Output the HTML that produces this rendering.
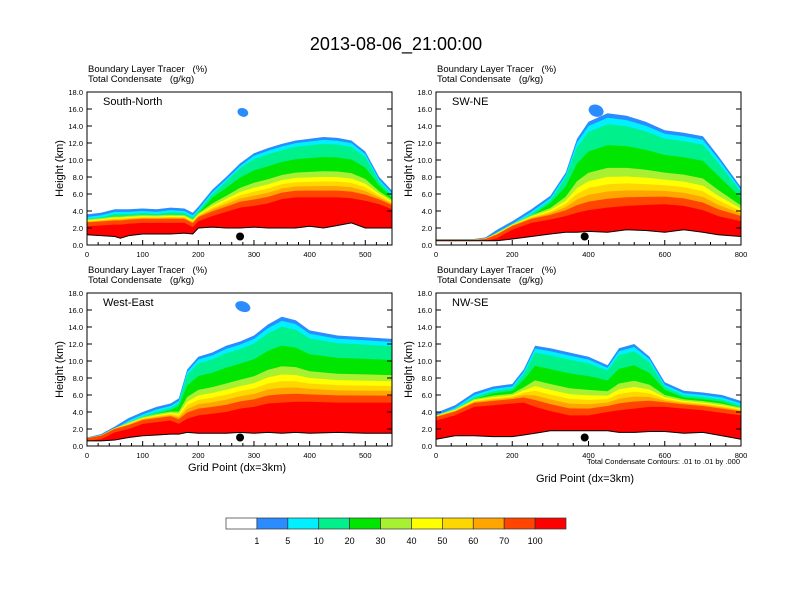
<!DOCTYPE html>
<html><head><meta charset="utf-8"><style>
body{margin:0;background:#fff}
svg{display:block;font-family:"Liberation Sans",sans-serif}
text{white-space:pre}
</style></head><body>
<svg id="c" width="792" height="612" viewBox="0 0 792 612">
<text x="396" y="50" font-size="18" text-anchor="middle">2013-08-06_21:00:00</text>
</svg>
<script>
const NS="http://www.w3.org/2000/svg";
const svg=document.getElementById('c');
const bandColors=["#2a8cff","#00f0ff","#00f08c","#00e600","#a8f032","#ffff00","#ffd700","#ffa500","#ff4500","#ff0000"];
const colorbarColors=["#ffffff","#2a8cff","#00f0ff","#00f08c","#00e600","#a8f032","#ffff00","#ffd700","#ffa500","#ff4500","#ff0000"];
const colorbarLabels=["1","5","10","20","30","40","50","60","70","100"];
const panelNames=["South-North","SW-NE","West-East","NW-SE"];
const panelXmax=[548,800,548,800];
const xTickStep=[100,200,100,200];
const p1Grid=[0,25,50,60,75,100,125,150,175,190,200,225,250,275,300,325,350,375,400,425,450,475,500,525,548];
const p1Terrain=[1.2,1.1,1.0,0.8,1.1,1.3,1.3,1.3,1.4,1.3,2.0,2.1,2.0,2.0,2.1,2.0,2.0,2.0,2.2,2.0,2.3,2.6,2.0,2.0,2.0];
const p1RedTop=[2.6,2.7,2.8,2.8,2.9,3.0,3.0,3.0,3.0,2.5,3.2,3.8,4.3,4.8,5.0,5.3,5.8,6.0,6.0,6.0,6.0,5.9,5.6,5.2,4.6];
const p1CloudTop=[3.6,3.8,4.2,4.2,4.2,4.3,4.2,4.4,4.3,3.8,4.5,6.5,8.0,9.6,10.8,11.4,11.9,12.3,12.5,12.7,12.6,12.3,11.0,8.0,6.4];
const p2Grid=[0,50,100,130,160,200,250,300,340,370,400,450,500,550,600,650,700,740,800];
const p2Terrain=[0.5,0.5,0.5,0.5,0.5,0.7,1.0,1.3,1.5,1.5,1.6,1.5,1.8,1.7,1.5,1.8,1.5,1.2,1.0];
const p2RedTop=[0.6,0.6,0.6,0.7,1.2,2.2,3.0,3.4,3.8,4.2,4.5,4.8,5.0,5.1,5.2,5.0,4.5,3.8,3.2];
const p2CloudTop=[0.7,0.7,0.7,0.9,1.8,2.8,4.2,5.8,8.5,12.5,14.5,15.5,15.2,14.5,13.5,13.2,12.8,10.5,6.8];
const p3Grid=[0,25,50,75,100,125,150,165,180,200,225,250,275,300,325,350,375,400,450,500,548];
const p3Terrain=[0.6,0.6,0.7,1.0,1.2,1.3,1.4,1.4,1.6,1.5,1.5,1.5,1.6,1.5,1.6,1.5,1.6,1.5,1.6,1.5,1.5];
const p3RedTop=[0.9,1.2,2.0,2.4,3.0,3.2,3.4,3.0,3.6,4.0,4.2,4.4,4.8,5.0,5.4,5.5,5.6,5.6,5.5,5.5,5.5];
const p3CloudTop=[1.0,1.4,2.3,3.3,4.0,4.6,5.0,5.6,9.0,10.5,11.0,11.8,12.3,13.0,14.3,15.2,14.8,13.6,13.0,12.8,12.6];
const p4Grid=[0,50,100,150,200,230,260,300,350,400,450,480,520,560,600,650,700,750,800];
const p4Terrain=[0.8,1.2,1.2,1.1,1.1,1.3,1.5,1.8,1.8,1.8,1.8,1.6,1.6,1.7,1.7,1.5,1.6,1.2,0.8];
const p4RedTop=[3.4,4.0,5.0,5.2,5.4,5.5,5.0,4.5,4.0,4.0,4.4,4.6,4.8,5.0,5.0,4.8,4.6,4.3,4.0];
const p4CloudTop=[3.9,4.8,6.3,7.0,7.3,9.0,11.8,11.5,11.0,10.5,9.5,11.5,12.0,10.5,7.5,6.5,6.3,6.0,5.3];
const panelGrids=[p1Grid,p2Grid,p3Grid,p4Grid];
const panelTerrain=[p1Terrain,p2Terrain,p3Terrain,p4Terrain];
const panelRedTop=[p1RedTop,p2RedTop,p3RedTop,p4RedTop];
const panelCloudTop=[p1CloudTop,p2CloudTop,p3CloudTop,p4CloudTop];
const blobX=[[280],[420],[280],[]];
const blobH=[[15.6],[15.8],[16.4],[]];
const blobRX=[[10],[20],[14],[]];
const blobRY=[[0.5],[0.7],[0.6],[]];
const dotX=[275,390,275,390];
const dotH=[1.0,1.0,1.0,1.0];
const panelPos=[[87,92],[436,92],[87,293],[436,293]];
const PW=305,PH=153,YMAX=18;
function el(t,a,p){const e=document.createElementNS(NS,t);for(const k in a)e.setAttribute(k,a[k]);(p||svg).appendChild(e);return e;}
panelPos.forEach((pos,i)=>{
  const [L,T]=pos;const xmax=panelXmax[i];
  const sx=v=>L+v/xmax*PW, sy=v=>T+PH-v/YMAX*PH;
  const g=el('g',{});
  
  
  const grid=panelGrids[i],ter=panelTerrain[i],red=panelRedTop[i],cl=panelCloudTop[i];
  const fr=[1,0.95,0.88,0.65,0.4,0.3,0.22,0.14,0.06,0];
  bandColors.forEach((col,b)=>{
    let pts=[];
    grid.forEach((gx,k)=>{
      let span=cl[k]-red[k];
      let top=red[k]+span*fr[b];
      if(b==1)top=Math.min(top,cl[k]-0.3);
      if(b==2)top=Math.min(top,cl[k]-0.55);
      if(b==3)top=Math.min(top,cl[k]-0.8);
      if(b==9)top=red[k]-0.4;
      top=Math.max(top,ter[k]);
      pts.push(sx(gx)+','+sy(top));
    });
    for(let k=grid.length-1;k>=0;k--)pts.push(sx(grid[k])+','+sy(ter[k]));
    const p=el('polygon',{points:pts.join(' '),fill:col},g);
    
    
  });
  blobX[i].forEach((bx,k)=>{
    const e=el('ellipse',{cx:sx(bx),cy:sy(blobH[i][k]),rx:blobRX[i][k]/xmax*PW,ry:blobRY[i][k]/YMAX*PH,fill:"#2a8cff",transform:`rotate(20 ${sx(bx)} ${sy(blobH[i][k])})`},g);
    
    
  });
  const tl=el('polyline',{points:grid.map((gx,k)=>sx(gx)+','+sy(ter[k])).join(' '),fill:'none',stroke:'#000','stroke-width':1},g);
  
  
  const d=el('circle',{cx:sx(dotX[i]),cy:sy(dotH[i]),r:4,fill:'#000'},g);
  
  
  const fr2=el('rect',{x:L,y:T,width:PW,height:PH,fill:'none',stroke:'#000','stroke-width':1},g);
  
  
  for(let v=0;v<=18;v+=2){
    el('line',{x1:L,x2:L+5,y1:sy(v),y2:sy(v),stroke:'#000'},g);
    el('line',{x1:L+PW,x2:L+PW-5,y1:sy(v),y2:sy(v),stroke:'#000'},g);
    const t=el('text',{x:L-4,y:sy(v)+3,'font-size':7.5,'text-anchor':'end'},g);t.textContent=v.toFixed(1);
    
    
  }
  const st=xTickStep[i];
  for(let v=0;v<=xmax;v+=st/5){
    const maj=Math.abs(v/st-Math.round(v/st))<1e-6;
    el('line',{x1:sx(v),x2:sx(v),y1:T+PH,y2:T+PH-(maj?5:3),stroke:'#000'},g);
    if(maj){const t=el('text',{x:sx(v),y:T+PH+12,'font-size':7.5,'text-anchor':'middle'},g);t.textContent=Math.round(v);
      
      }
  }
  const yl=el('text',{x:0,y:0,'font-size':11,'text-anchor':'middle',transform:`translate(${L-24},${T+PH/2}) rotate(-90)`},g);yl.textContent='Height (km)';
  
  
  const s1=el('text',{x:L+1,y:T-20,'font-size':9.5},g);s1.textContent='Boundary Layer Tracer   (%)';
  
  
  const s2=el('text',{x:L+1,y:T-10,'font-size':9.5},g);s2.textContent='Total Condensate   (g/kg)';
  
  
  const nm=el('text',{x:L+16,y:T+13,'font-size':11},g);nm.textContent=panelNames[i];
  
  
});
[[237,471],[585,482]].forEach(p=>{const t=el('text',{x:p[0],y:p[1],'font-size':11,'text-anchor':'middle'});t.textContent='Grid Point (dx=3km)';
  
  });
const note=el('text',{x:740,y:464,'font-size':7.5,'text-anchor':'end'});note.textContent='Total Condensate Contours: .01 to .01 by .000';


const cbW=340/11;
colorbarColors.forEach((c,k)=>{const r=el('rect',{x:226+k*cbW,y:518,width:cbW,height:11,fill:c,stroke:'#333','stroke-width':0.7});
  
  });
colorbarLabels.forEach((l,k)=>{const t=el('text',{x:226+(k+1)*cbW,y:544,'font-size':9,'text-anchor':'middle'});t.textContent=l;
  
  });
</script>
</body></html>
